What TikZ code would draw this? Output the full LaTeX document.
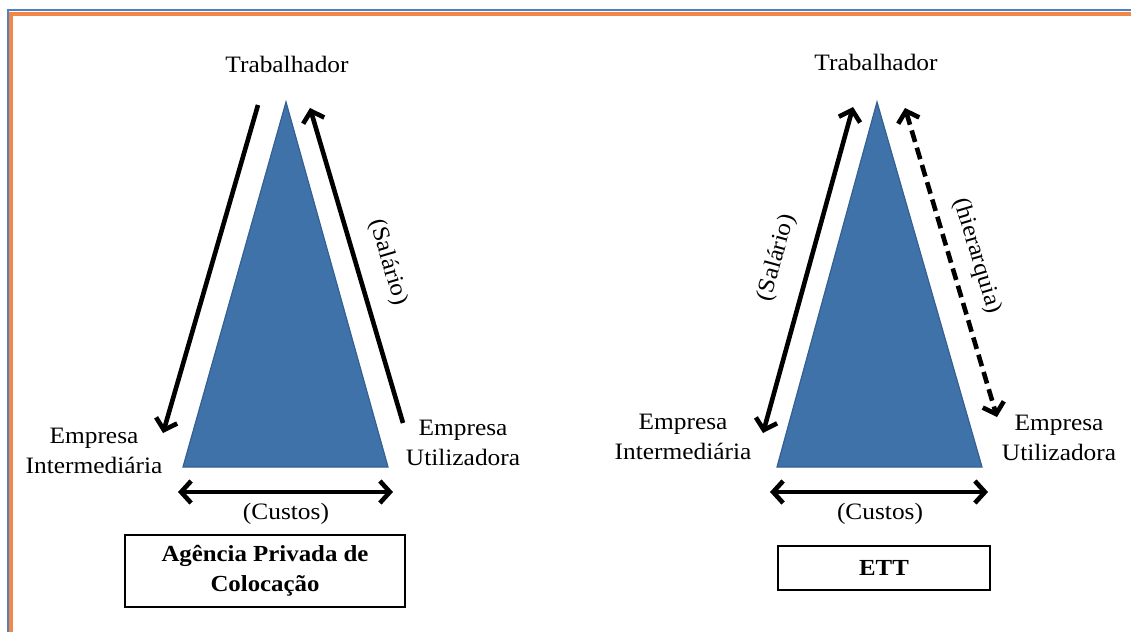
\documentclass[tikz,border=0pt]{standalone}
\usepackage{fontspec}
\setmainfont{Liberation Serif}[FakeStretch=1.08]
\usetikzlibrary{positioning, arrows.meta}

\definecolor{triblue}{RGB}{63,114,168}
\definecolor{triedge}{RGB}{52,96,146}
\definecolor{frameblue}{RGB}{79,129,189}
\definecolor{frameorange}{RGB}{242,135,72}

\tikzset{
	>={Straight Barb[length=10pt,width=22pt]},
	rotulo/.style={font=\fontsize{23.5}{30}\selectfont, align=center, inner sep=0pt},
	triangulo/.style={fill=triblue, draw=triedge, line width=1.2pt, line join=miter},
	seta/.style={line width=4.6pt},
	caixa/.style={draw, line width=1.2pt, font=\bfseries\fontsize{23}{30}\selectfont, align=center, inner sep=0pt}
}

\begin{document}
\begin{tikzpicture}[x=1pt, y=-1pt]
				\useasboundingbox (0,0) rectangle (1131,632);
				
				% moldura
				\draw[frameblue, line width=2pt] (8,632) -- (8,10) -- (1131,10);
				\draw[frameorange, line width=4pt] (11,632) -- (11,14) -- (1131,14);
				
				\begin{scope}
					\coordinate (topo) at (286,102);
					\coordinate (baseE) at (183,467);
					\coordinate (baseD) at (388,467);
					\fill[triangulo] (topo) -- (baseE) -- (baseD) -- cycle;
					
					\node[rotulo] (trab) at (287,64) {Trabalhador};
					\node[rotulo] (inter) at (94,451) {Empresa\\Intermediária};
					\node[rotulo] (util) at (463,443) {Empresa\\Utilizadora};
					\node[rotulo] (custos) at (286,514) {(Custos)};
					
					\coordinate (s1) at (258,105);
					\coordinate (s2) at (163,433);
					\coordinate (s3) at (403,423);
					\coordinate (s4) at (310,108);
					\coordinate (c1) at (178,492);
					\coordinate (c2) at (393,492);
					\draw[seta, ->] (s1) -- (s2);
					\draw[seta, ->] (s3) -- (s4);
					\draw[seta, <->] (c1) -- (c2);
					\node[rotulo, rotate=-73.6] (sal) at (388,262) {(Salário)};
					
					\node[caixa, minimum width=280pt, minimum height=72pt] (apc) at (265,571) {Agência Privada de\\Colocação};
				\end{scope}
				
				\begin{scope}[shift={(591,0)}] % segundo triangulo
					\coordinate (topoB) at (286,102);
					\coordinate (baseEB) at (186,467);
					\coordinate (baseDB) at (391,467);
					\fill[triangulo] (topoB) -- (baseEB) -- (baseDB) -- cycle;
					
					\node[rotulo] (trabB) at (285,62) {Trabalhador};
					\node[rotulo] (interB) at (92,437) {Empresa\\Intermediária};
					\node[rotulo] (utilB) at (468,438) {Empresa\\Utilizadora};
					\node[rotulo] (custosB) at (289,514) {(Custos)};
					
					\coordinate (t1) at (172,433);
					\coordinate (t2) at (262,107);
					\coordinate (h1) at (314,108);
					\coordinate (h2) at (406,417);
					\coordinate (d1) at (179,492);
					\coordinate (d2) at (397,492);
					\draw[seta, <->] (t1) -- (t2);
					\draw[seta, <->, dash pattern=on 12pt off 6pt] (h1) -- (h2);
					\draw[seta, <->] (d1) -- (d2);
					\node[rotulo, rotate=74.6] (salB) at (186,258) {(Salário)};
					\node[rotulo, rotate=-73.5] (hier) at (386,256) {(hierarquia)};
					
					\node[caixa, minimum width=212pt, minimum height=44pt] (ett) at (293,568) {ETT};
				\end{scope}
			\end{tikzpicture}
\end{document}
